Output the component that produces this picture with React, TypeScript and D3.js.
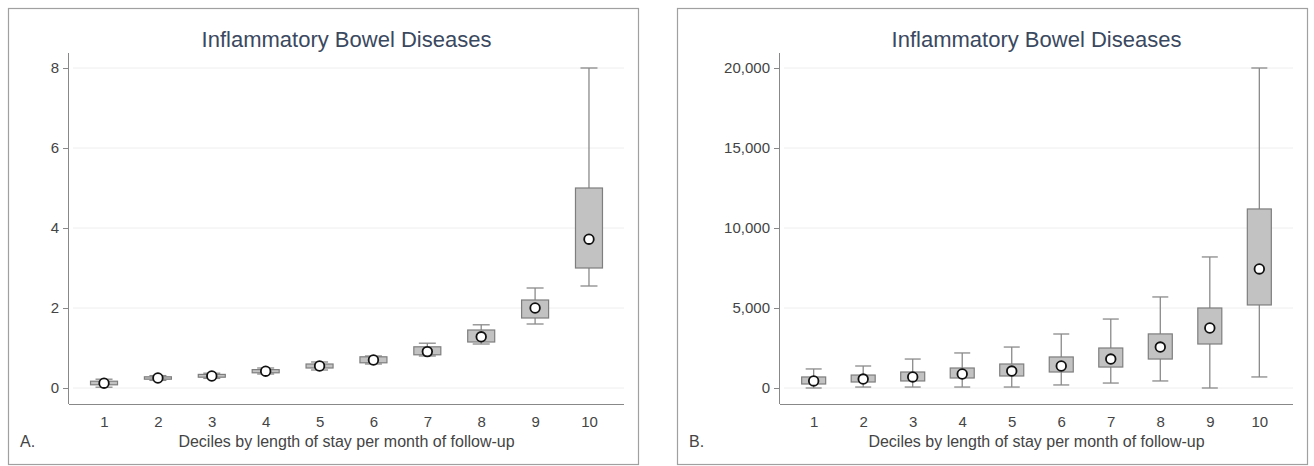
import { useEffect, useRef } from "react";
import * as d3 from "d3";

const deciles = ["1", "2", "3", "4", "5", "6", "7", "8", "9", "10"];

// panel A: length of stay per month of follow-up
const losMin = [0.02, 0.19, 0.24, 0.35, 0.45, 0.6, 0.8, 1.1, 1.6, 2.55];
const losQ1 = [0.08, 0.22, 0.27, 0.38, 0.5, 0.63, 0.83, 1.15, 1.75, 3.0];
const losMedian = [0.12, 0.25, 0.3, 0.42, 0.55, 0.7, 0.91, 1.28, 2.0, 3.72];
const losQ3 = [0.17, 0.28, 0.34, 0.46, 0.6, 0.78, 1.03, 1.45, 2.2, 5.0];
const losMax = [0.22, 0.31, 0.37, 0.5, 0.65, 0.8, 1.12, 1.58, 2.5, 8.0];
const losTicks = [0, 2, 4, 6, 8];

// panel B: costs
const costMin = [0, 60, 60, 60, 60, 190, 310, 440, 0, 690];
const costQ1 = [250, 375, 440, 625, 750, 1000, 1310, 1810, 2750, 5190];
const costMedian = [440, 560, 690, 875, 1060, 1375, 1810, 2560, 3750, 7440];
const costQ3 = [690, 810, 1000, 1250, 1500, 1940, 2500, 3380, 5000, 11190];
const costMax = [1190, 1375, 1810, 2190, 2560, 3375, 4310, 5690, 8190, 20000];
const costTicks = [0, 5000, 10000, 15000, 20000];

const FONT = "'Liberation Sans', Arial, sans-serif";

type PanelProps = {
  frameX: number;
  axisX: number;
  plotRight: number;
  pad: number;
  label: string;
  mins: number[];
  q1s: number[];
  medians: number[];
  q3s: number[];
  maxs: number[];
  ticks: number[];
  domainMax: number;
  boxW: number;
  capW: number;
  fmt: (v: number) => string;
};

const Panel = (p: PanelProps) => {
  const gRef = useRef<SVGGElement>(null);

  useEffect(() => {
    const g = d3.select(gRef.current);
    const top = 68;
    const zeroY = 388;
    const axisY = 404;

    const x = d3.scalePoint().domain(deciles).range([p.axisX, p.plotRight]).padding(p.pad);
    const y = d3.scaleLinear().domain([0, p.domainMax]).range([zeroY, top]);

    // frame
    g.append("rect")
      .attr("x", p.frameX + 0.5)
      .attr("y", 8.5)
      .attr("width", 630)
      .attr("height", 456)
      .attr("fill", "#fff")
      .attr("stroke", "#a0a0a0")
      .attr("stroke-width", 1.2);

    // grid
    g.append("g")
      .selectAll("line")
      .data(p.ticks)
      .join("line")
      .attr("x1", p.axisX + 4)
      .attr("x2", p.plotRight)
      .attr("y1", (d) => y(d))
      .attr("y2", (d) => y(d))
      .attr("stroke", "#eeeeee")
      .attr("stroke-width", 1);

    // y axis
    const ya = g
      .append("g")
      .attr("transform", `translate(${p.axisX},0)`)
      .call(d3.axisLeft(y).tickValues(p.ticks).tickSize(6).tickPadding(4).tickFormat((d) => p.fmt(d as number)));
    ya.select(".domain").attr("d", `M-0.5,53V${axisY}`).attr("stroke", "#888");
    ya.selectAll(".tick line").attr("stroke", "#888");
    ya.selectAll("text").attr("font-family", FONT).attr("font-size", 15).attr("fill", "#444");

    // x axis
    const xa = g
      .append("g")
      .attr("transform", `translate(0,${axisY})`)
      .call(d3.axisBottom(x).tickSize(0).tickPadding(12));
    xa.select(".domain").attr("d", `M${p.axisX},0.5H${p.plotRight}`).attr("stroke", "#888");
    xa.selectAll("text").attr("font-family", FONT).attr("font-size", 15).attr("fill", "#444");

    const rows = deciles.map((d, i) => ({
      d,
      min: p.mins[i],
      q1: p.q1s[i],
      med: p.medians[i],
      q3: p.q3s[i],
      max: p.maxs[i],
    }));

    const boxes = g.append("g").selectAll("g").data(rows).join("g");
    const cx = (r: { d: string }) => x(r.d) as number;

    // whiskers
    boxes
      .append("line")
      .attr("x1", cx)
      .attr("x2", cx)
      .attr("y1", (r) => y(r.max))
      .attr("y2", (r) => y(r.min))
      .attr("stroke", "#8a8a8a")
      .attr("stroke-width", 1.3);
    for (const key of ["min", "max"] as const) {
      boxes
        .append("line")
        .attr("x1", (r) => cx(r) - p.capW / 2)
        .attr("x2", (r) => cx(r) + p.capW / 2)
        .attr("y1", (r) => y(r[key]))
        .attr("y2", (r) => y(r[key]))
        .attr("stroke", "#8a8a8a")
        .attr("stroke-width", 1.3);
    }
    boxes
      .append("rect")
      .attr("x", (r) => cx(r) - p.boxW / 2)
      .attr("width", p.boxW)
      .attr("y", (r) => y(r.q3))
      .attr("height", (r) => Math.max(1, y(r.q1) - y(r.q3)))
      .attr("fill", "#c2c2c2")
      .attr("stroke", "#7e7e7e")
      .attr("stroke-width", 1.2);
    boxes
      .append("circle")
      .attr("cx", cx)
      .attr("cy", (r) => y(r.med))
      .attr("r", 4.8)
      .attr("fill", "#fff")
      .attr("stroke", "#111")
      .attr("stroke-width", 1.8);

    // titles
    g.append("text")
      .attr("x", (p.axisX + p.plotRight) / 2)
      .attr("y", 47)
      .attr("text-anchor", "middle")
      .attr("font-family", FONT)
      .attr("font-size", 22)
      .attr("fill", "#3a4860")
      .text("Inflammatory Bowel Diseases");
    g.append("text")
      .attr("x", (p.axisX + p.plotRight) / 2)
      .attr("y", 447)
      .attr("text-anchor", "middle")
      .attr("font-family", FONT)
      .attr("font-size", 16)
      .attr("fill", "#444")
      .text("Deciles by length of stay per month of follow-up");
    g.append("text")
      .attr("x", p.frameX + 12)
      .attr("y", 447)
      .attr("font-family", FONT)
      .attr("font-size", 16)
      .attr("fill", "#444")
      .text(p.label);

    return () => {
      g.selectAll("*").remove();
    };
    // eslint-disable-next-line
  }, []);

  return <g ref={gRef}></g>;
};

const App = () => {
  return (
    <svg width={1314} height={466} style={{ position: "absolute", left: 0, top: 0, background: "#fff" }}>
      <Panel
        frameX={8}
        axisX={69}
        plotRight={624}
        pad={0.65}
        label="A."
        mins={losMin}
        q1s={losQ1}
        medians={losMedian}
        q3s={losQ3}
        maxs={losMax}
        ticks={losTicks}
        domainMax={8}
        boxW={27}
        capW={17}
        fmt={(v) => d3.format("d")(v)}
      />
      <Panel
        frameX={677}
        axisX={780}
        plotRight={1293}
        pad={0.68}
        label="B."
        mins={costMin}
        q1s={costQ1}
        medians={costMedian}
        q3s={costQ3}
        maxs={costMax}
        ticks={costTicks}
        domainMax={20000}
        boxW={24}
        capW={16}
        fmt={(v) => d3.format(",")(v)}
      />
    </svg>
  );
};

export default App;
